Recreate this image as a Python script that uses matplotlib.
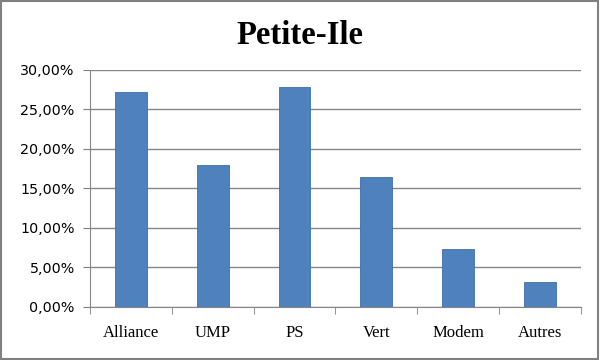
import matplotlib
matplotlib.use('Agg')
import matplotlib.pyplot as plt
import matplotlib.patches as patches
import numpy as np

partis = ['Alliance', 'UMP', 'PS', 'Vert', 'Modem', 'Autres']
scores = [27.2, 18.0, 27.8, 16.4, 7.25, 3.15]
yticks = [0, 5, 10, 15, 20, 25, 30]
ylabels = ['0,00%', '5,00%', '10,00%', '15,00%', '20,00%', '25,00%', '30,00%']

fig = plt.figure(figsize=(6, 3.6), dpi=100)
ax = fig.add_axes([0.15, 0.148, 0.818, 0.658])

x = np.arange(len(partis))
ax.bar(x, scores, width=0.39, color='#4F81BD', edgecolor='#3E6EA8', linewidth=0.6, zorder=3)

ax.set_xlim(-0.5, len(partis) - 0.5)
ax.set_ylim(0, 30)
ax.set_yticks(yticks)
ax.set_yticklabels(ylabels, fontsize=10.3, family='DejaVu Sans')
ax.set_xticks(x)
ax.set_xticklabels(partis, fontsize=12, family='Liberation Serif')
ax.set_xticks(np.arange(len(partis) + 1) - 0.5, minor=True)
ax.tick_params(axis='x', which='major', length=0, pad=13)
ax.tick_params(axis='x', which='minor', length=5, color='#808080', direction='out')
ax.tick_params(axis='y', length=5, color='#808080', direction='out', pad=6)
ax.yaxis.grid(True, color='#868686', linewidth=1.0, zorder=0)
for s in ['top', 'right']:
    ax.spines[s].set_visible(False)
for s in ['left', 'bottom']:
    ax.spines[s].set_color('#868686')

fig.text(0.5, 0.9, 'Petite-Ile', ha='center', va='center', fontsize=23.5,
         fontweight='bold', family='Liberation Serif')

fig.patches.append(patches.Rectangle((0.002, 0.003), 0.995, 0.994, transform=fig.transFigure,
                                     fill=False, edgecolor='#808080', linewidth=1.5))

fig.savefig('out.png', dpi=100)
